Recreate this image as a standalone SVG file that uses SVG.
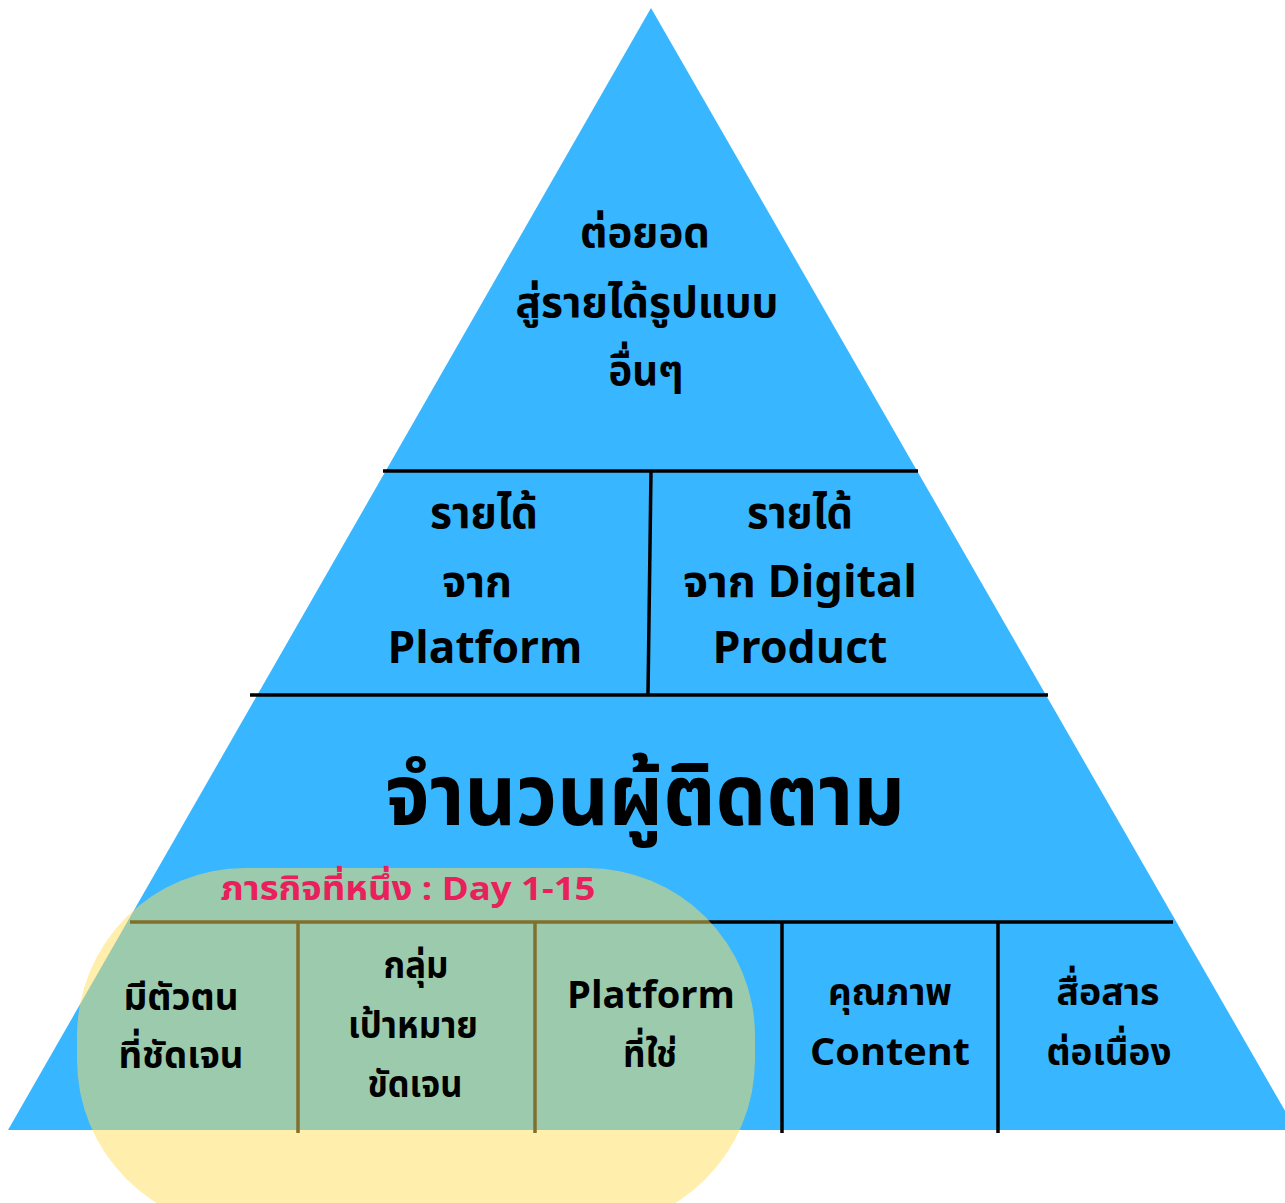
<svg xmlns="http://www.w3.org/2000/svg" width="1285" height="1203" viewBox="0 0 1285 1203">
<style>
.t{font-family:"Noto Sans Thai","Noto Sans","DejaVu Sans",sans-serif;font-weight:700;fill:#000;text-anchor:middle}
.f1{font-size:42px}
.f2{font-size:44px}
.f3{font-size:86px}
.f4{font-size:38px}
.pk{font-family:"Noto Sans Thai","Noto Sans","DejaVu Sans",sans-serif;font-weight:700;font-size:33px;fill:#e8205c;text-anchor:middle}
.ln{stroke:#000;stroke-width:3.5;fill:none}
</style>
<rect width="1285" height="1203" fill="#fff"/>
<g id="pyramid">
<polygon points="651,8 8,1130 1296,1130" fill="#38b6ff"/>
</g>
<g id="connectors">
<line class="ln" x1="383" y1="471" x2="918" y2="471"/>
<line class="ln" x1="651" y1="471" x2="648" y2="695"/>
<line class="ln" x1="250" y1="695" x2="1048" y2="695"/>
<line class="ln" x1="130" y1="922" x2="1173" y2="922"/>
<line class="ln" x1="298" y1="922" x2="298" y2="1133"/>
<line class="ln" x1="535" y1="922" x2="535" y2="1133"/>
<line class="ln" x1="782" y1="922" x2="782" y2="1133"/>
<line class="ln" x1="998" y1="922" x2="998" y2="1133"/>
</g>
<g id="mission-highlight">
<rect x="77" y="868" width="678" height="360" rx="168" ry="168" fill="#ffde59" fill-opacity="0.5"/>
<text class="pk" x="408" y="900" textLength="375" lengthAdjust="spacingAndGlyphs">ภารกิจที่หนึ่ง : Day 1-15</text>
</g>
<g id="node-top">
<text class="t f1" x="645" y="247" textLength="130" lengthAdjust="spacingAndGlyphs">ต่อยอด</text>
<text class="t f1" x="647" y="317" textLength="263" lengthAdjust="spacingAndGlyphs">สู่รายได้รูปแบบ</text>
<text class="t f1" x="646" y="385" textLength="75" lengthAdjust="spacingAndGlyphs">อื่นๆ</text>
</g>
<g id="node-platform-income">
<text class="t f2" x="484" y="528" textLength="108" lengthAdjust="spacingAndGlyphs">รายได้</text>
<text class="t f2" x="477" y="597" textLength="70" lengthAdjust="spacingAndGlyphs">จาก</text>
<text class="t f2" x="485" y="663" textLength="195" lengthAdjust="spacingAndGlyphs">Platform</text>
</g>
<g id="node-digital-income">
<text class="t f2" x="800" y="528" textLength="106" lengthAdjust="spacingAndGlyphs">รายได้</text>
<text class="t f2" x="800" y="597" textLength="234" lengthAdjust="spacingAndGlyphs">จาก Digital</text>
<text class="t f2" x="800" y="663" textLength="175" lengthAdjust="spacingAndGlyphs">Product</text>
</g>
<g id="node-followers">
<text class="t f3" x="645" y="825" textLength="520" lengthAdjust="spacingAndGlyphs">จำนวนผู้ติดตาม</text>
</g>
<g id="node-identity">
<text class="t f4" x="181" y="1010" textLength="115" lengthAdjust="spacingAndGlyphs">มีตัวตน</text>
<text class="t f4" x="181" y="1068" textLength="125" lengthAdjust="spacingAndGlyphs">ที่ชัดเจน</text>
</g>
<g id="node-target">
<text class="t f4" x="416" y="978" textLength="65" lengthAdjust="spacingAndGlyphs">กลุ่ม</text>
<text class="t f4" x="413" y="1038" textLength="130" lengthAdjust="spacingAndGlyphs">เป้าหมาย</text>
<text class="t f4" x="415" y="1097" textLength="95" lengthAdjust="spacingAndGlyphs">ขัดเจน</text>
</g>
<g id="node-platform-fit">
<text class="t f4" x="651" y="1008" textLength="168" lengthAdjust="spacingAndGlyphs">Platform</text>
<text class="t f4" x="650" y="1067" textLength="54" lengthAdjust="spacingAndGlyphs">ที่ใช่</text>
</g>
<g id="node-content">
<text class="t f4" x="890" y="1005" textLength="124" lengthAdjust="spacingAndGlyphs">คุณภาพ</text>
<text class="t f4" x="890" y="1065" textLength="160" lengthAdjust="spacingAndGlyphs">Content</text>
</g>
<g id="node-communicate">
<text class="t f4" x="1108" y="1005" textLength="103" lengthAdjust="spacingAndGlyphs">สื่อสาร</text>
<text class="t f4" x="1109" y="1065" textLength="125" lengthAdjust="spacingAndGlyphs">ต่อเนื่อง</text>
</g>
</svg>
